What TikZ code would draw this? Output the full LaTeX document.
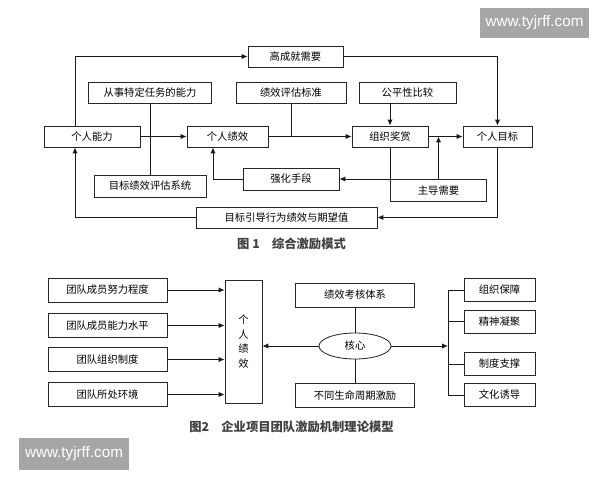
\documentclass[tikz,border=0pt]{standalone}
\usepackage{fontspec}
\setmainfont{Noto Sans CJK SC}
\newfontfamily\wmfont{Liberation Sans}
\usetikzlibrary{arrows.meta,shapes.geometric,positioning}

\begin{document}
\begin{tikzpicture}[x=0.03cm, y=-0.03cm,
  box/.style={draw=black!85, line width=0.7pt, minimum height=0.63cm, inner sep=1pt, font=\fontsize{8.8}{10}\selectfont},
  arr/.style={-{Latex[length=5pt,width=4.5pt]}, line width=0.8pt, draw=black!90},
  conn/.style={line width=0.8pt, draw=black!90},
  capt/.style={font=\fontsize{10.5}{12}\selectfont\bfseries, text=black!75},
  wmark/.style={fill=black!35, text=white, font=\wmfont\fontsize{13}{14}\selectfont, minimum width=3.27cm, minimum height=0.9cm}]

\useasboundingbox (0,0) rectangle (600,480);

% figure 1
\node[box, minimum width=2.88cm] (nengli) at (92,136.5) {个人能力};
\node[box, minimum width=2.85cm] (chengjiu) at (295.5,56.5) {高成就需要};
\node[box, minimum width=3.69cm] (teding) at (150,92.5) {从事特定任务的能力};
\node[box, minimum width=3.3cm] (biaozhun) at (291,92.5) {绩效评估标准};
\node[box, minimum width=2.91cm] (gongping) at (407.5,92.5) {公平性比较};
\node[box, minimum width=2.43cm] (jixiao) at (227.5,136.5) {个人绩效};
\node[box, minimum width=2.28cm] (jiangshang) at (390,136.5) {组织奖赏};
\node[box, minimum width=2.07cm] (mubiao) at (497.5,136.5) {个人目标};
\node[box, minimum width=2.88cm, minimum height=0.66cm] (qianghua) at (291,179) {强化手段};
\node[box, minimum width=3.36cm, minimum height=0.66cm] (pinggu) at (150,186) {目标绩效评估系统};
\node[box, minimum width=2.88cm, minimum height=0.66cm] (zhudao) at (438.5,190.5) {主导需要};
\node[box, minimum width=5.43cm] (qiwang) at (286.5,217.5) {目标引导行为绩效与期望值};
\coordinate (k1) at (75,56.5);
\coordinate (k2) at (213,179);

\draw[arr] (nengli.north -| k1) -- (k1) -- (chengjiu.west);
\draw[arr] (chengjiu.east) -| (mubiao.north);
\draw[arr] (nengli) -- (jixiao);
\draw[conn] (teding) -- (pinggu);
\draw[conn] (biaozhun.south) -- (biaozhun.south |- jixiao.east);
\draw[arr] (jixiao) -- (jiangshang);
\draw[arr] (gongping.south -| jiangshang) -- (jiangshang.north);
\draw[arr] (jiangshang) -- (mubiao);
\draw[arr] (zhudao.north) -- (zhudao.north |- mubiao.west);
\draw[arr] (jiangshang.south) |- (qianghua.east);
\draw[arr] (qianghua.west) -- (k2) -- (k2 |- jixiao.south);
\draw[arr] (mubiao.south) |- (qiwang.east);
\draw[arr] (qiwang.west) -| (k1 |- nengli.south);

\node[capt] (cap1) at (291.5,244) {图 1\quad 综合激励模式};

% figure 2
\foreach \i/\t/\y in {1/团队成员努力程度/290, 2/团队成员能力水平/325.5, 3/团队组织制度/359.5, 4/团队所处环境/394.5}
  \node[box, minimum width=3.57cm, minimum height=0.72cm] (yinsu\i) at (107.5,\y) {\t};
\node[box, minimum width=1.11cm, minimum height=3.69cm, align=center, font=\fontsize{8.8}{12.5}\selectfont] (geren) at (243.5,341.5) {个\\人\\绩\\效};
\node[box, ellipse, minimum width=2.16cm, minimum height=0.78cm] (hexin) at (355,346) {核心};
\node[box, minimum width=3.57cm, minimum height=0.72cm] (tixi) at (355,295) {绩效考核体系};
\node[box, minimum width=3.57cm, minimum height=0.72cm] (zhouqi) at (355,395.5) {不同生命周期激励};
\foreach \i/\t/\y in {1/组织保障/290, 2/精神凝聚/321.5, 3/制度支撑/364, 4/文化诱导/395}
  \node[box, minimum width=2.13cm, minimum height=0.69cm] (baozhang\i) at (499.5,\y) {\t};
\coordinate (k3) at (448,346);

\foreach \i in {1,...,4}
  \draw[arr] (yinsu\i) -- (yinsu\i -| geren.west);
\draw[arr] (hexin) -- (hexin -| geren.east);
\draw[conn] (tixi) -- (hexin);
\draw[conn] (hexin) -- (zhouqi);
\draw[arr] (hexin) -- (k3);
\draw[conn] (k3 |- baozhang1) -- (k3 |- baozhang4);
\foreach \i in {1,...,4}
  \draw[conn] (k3 |- baozhang\i) -- (baozhang\i.west);

\node[capt] (cap2) at (291.5,427) {图2\quad 企业项目团队激励机制理论模型};

% watermarks
\node[wmark] (wm1) at (534.5,23) {www.tyjrff.com};
\node[wmark, minimum width=3.3cm, minimum height=0.96cm] (wm2) at (74,454) {www.tyjrff.com};

\end{tikzpicture}
\end{document}
